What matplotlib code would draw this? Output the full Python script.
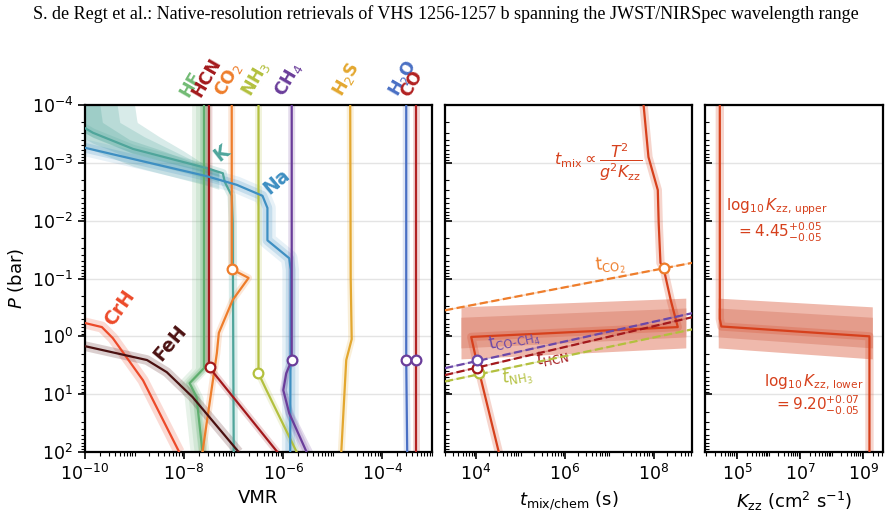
import numpy as np
import matplotlib
matplotlib.use('Agg')
import matplotlib.pyplot as plt
from matplotlib import transforms
from matplotlib.ticker import LogLocator, NullFormatter

plt.rcParams['font.family'] = ['DejaVu Sans']
plt.rcParams['mathtext.fontset'] = 'dejavusans'

TITLE = "S. de Regt et al.: Native-resolution retrievals of VHS 1256-1257 b spanning the JWST/NIRSpec wavelength range"

# ---------------- Panel 1 data: log10 VMR vs log10 P(bar) ----------------
HF_vmr = [-7.60, -7.60, -7.89, -7.75, -7.63]
HF_p = [-4.00, 0.55, 0.81, 1.05, 2.00]
HCN_vmr = [-7.50, -7.50, -6.12]
HCN_p = [-4.00, 0.53, 2.00]
CO2_vmr = [-7.04, -7.04, -6.70, -7.02, -7.30, -7.34, -7.63]
CO2_p = [-4.00, -1.16, -1.01, -0.63, -0.06, 0.29, 2.00]
NH3_vmr = [-6.50, -6.50, -6.34, -5.73]
NH3_p = [-4.00, 0.64, 0.93, 2.00]
CH4_vmr = [-5.83, -5.83, -5.94, -6.00, -5.88, -5.53]
CH4_p = [-4.00, 0.41, 0.64, 0.93, 1.33, 2.00]
H2S_vmr = [-4.65, -4.64, -4.62, -4.73, -4.83]
H2S_p = [-4.00, -1.00, 0.05, 0.41, 2.00]
H2O_vmr = [-3.52, -3.52, -3.50]
H2O_p = [-4.00, 0.41, 2.00]
CO_vmr = [-3.32, -3.32]
CO_p = [-4.00, 2.00]
K_vmr = [-10.3, -10.0, -9.84, -9.03, -7.55, -7.22, -7.18, -7.04, -7.02, -7.00]
K_p = [-3.68, -3.60, -3.52, -3.24, -2.91, -2.82, -2.67, -2.43, -1.96, 2.00]
Na_vmr = [-10.3, -10.0, -7.55, -6.94, -6.42, -6.32, -6.32, -5.88, -5.85, -5.86]
Na_p = [-3.32, -3.26, -2.77, -2.62, -2.43, -2.22, -1.66, -1.35, -1.15, 2.00]
CrH_vmr = [-10.3, -10.0, -9.66, -9.44, -8.83, -8.10]
CrH_p = [-0.25, -0.23, -0.16, 0.03, 0.76, 2.00]
FeH_vmr = [-10.3, -10.0, -8.75, -8.35, -7.83, -6.90]
FeH_p = [0.15, 0.17, 0.41, 0.62, 1.05, 2.00]

# K uncertainty envelope upper edges (log VMR, log P), 3 levels (wide -> narrow)
Kenv_x = [[-9.00, -8.95, -8.50, -8.00, -7.55, -7.30],
          [-9.35, -9.30, -8.80, -8.20, -7.60, -7.30],
          [-9.70, -9.65, -9.10, -8.40, -7.70, -7.30]]
Kenv_p = [[-4.00, -3.70, -3.45, -3.20, -2.95, -2.85],
          [-4.00, -3.70, -3.45, -3.20, -2.95, -2.85],
          [-4.00, -3.70, -3.40, -3.20, -2.97, -2.85]]
Kenv_lo = [0.30, 0.18, 0.08]

# HF band offsets (dex) for 3 levels
HF_band_lo = [-0.25, -0.17, -0.09]
HF_band_hi = [0.13, 0.08, 0.04]

# quench points (log VMR, log P)
Q_vmr = [-7.04, -7.48, -6.50, -5.83, -3.52, -3.32]
Q_p = [-1.16, 0.53, 0.64, 0.41, 0.41, 0.41]

top_labels = ['HF', 'HCN', 'CO$_2$', 'NH$_3$', 'CH$_4$', 'H$_2$S', 'H$_2$O', 'CO']
top_label_x = [-7.85, -7.60, -7.12, -6.58, -5.91, -4.73, -3.60, -3.40]

# ---------------- Panel 2 data: log10 t vs log10 P ----------------
tmix_t = [7.77, 7.88, 8.09, 8.11, 8.15, 8.22, 8.38, 8.54, 3.89, 4.02, 4.51]
tmix_p = [-4.00, -3.10, -2.53, -1.96, -1.27, -1.18, -0.63, -0.16, 0.01, 0.46, 2.00]
tchem_t = [3.30, 8.86]
tCO2_p = [-0.45, -1.27]
tCOCH4_p = [0.55, -0.40]
tHCN_p = [0.67, -0.33]
tNH3_p = [0.78, -0.12]
Qt_t = [8.22, 4.01, 4.01, 4.07]
Qt_p = [-1.18, 0.41, 0.54, 0.63]
band2_t = [3.66, 8.72]
band2_light_top = [-0.51, -0.66]
band2_light_bot = [0.39, 0.20]
band2_dark_top = [-0.33, -0.49]
band2_dark_bot = [0.20, 0.01]

# ---------------- Panel 3 data: log10 Kzz vs log10 P ----------------
Kzz_k = [4.45, 4.45, 4.50, 9.20, 9.20]
Kzz_p = [-4.00, -0.30, -0.17, 0.00, 2.00]
band3_k = [4.40, 9.29]
band3_light_top = [-0.66, -0.51]
band3_light_bot = [0.20, 0.39]
band3_dark_top = [-0.49, -0.33]
band3_dark_bot = [0.01, 0.20]

# ---------------- colours ----------------
C = dict(HF='#5fae6e', HCN='#a3191c', CO2='#ee7d2b', NH3='#b3c03e', CH4='#6a3d9a',
         H2S='#e3a72f', H2O='#4a70c4', CO='#b22222', K='#4fa59b', Na='#3e8fc2',
         CrH='#ec4a2a', FeH='#4b1111')
RED = '#d6401c'
HFlab = '#72bb74'
PURP2 = '#6b48a8'

def P(a):
    return 10.0 ** np.asarray(a, dtype=float)

fig = plt.figure(figsize=(8.91, 5.14), dpi=100)
W, H = 891.0, 514.0
top, bot = 105, 452
ax1 = fig.add_axes([85 / W, 1 - bot / H, (432 - 85) / W, (bot - top) / H])
ax2 = fig.add_axes([445 / W, 1 - bot / H, (692 - 445) / W, (bot - top) / H])
ax3 = fig.add_axes([705 / W, 1 - bot / H, (883 - 705) / W, (bot - top) / H])

fig.text(0.5, 1 - 14 / H, TITLE, ha='center', va='center', family='Liberation Serif', fontsize=13)

def line(ax, x, y, color, lw=1.6, glows=((5, 0.18),), z=3):
    for w, a in glows:
        ax.plot(P(x), P(y), color=color, lw=w, alpha=a, solid_capstyle='butt', zorder=z - 0.5)
    ax.plot(P(x), P(y), color=color, lw=lw, zorder=z)

# ---- Panel 1 ----
xg = np.linspace(-10.6, -7.3, 300)
Kline_p = np.interp(xg, K_vmr[:6], K_p[:6])
for lev, alpha in zip(range(3), [0.22, 0.22, 0.25]):
    ptop = np.interp(xg, Kenv_x[lev], Kenv_p[lev], left=-4.0, right=Kenv_p[lev][-1])
    pbot = Kline_p + Kenv_lo[lev]
    pbot = np.maximum(pbot, ptop)
    ax1.fill_between(P(xg), P(pbot), P(ptop), color=C['K'], alpha=alpha, lw=0, zorder=1)

pg = np.linspace(-4, 2, 400)
hf = np.interp(pg, HF_p, HF_vmr)
for lo, hi in zip(HF_band_lo, HF_band_hi):
    ax1.fill_betweenx(P(pg), P(hf + lo), P(hf + hi), color=C['HF'], alpha=0.15, lw=0, zorder=1)

pg2 = np.linspace(0.41, 2, 100)
ch = np.interp(pg2, CH4_p, CH4_vmr)
wid = 0.03 + 0.10 * (pg2 - 0.41) / 1.59
ax1.fill_betweenx(P(pg2), P(ch - wid), P(ch + wid), color=C['CH4'], alpha=0.18, lw=0, zorder=1)

line(ax1, HF_vmr, HF_p, C['HF'])
line(ax1, K_vmr, K_p, C['K'], glows=((6, 0.2),))
line(ax1, CO2_vmr, CO2_p, C['CO2'])
line(ax1, HCN_vmr, HCN_p, C['HCN'])
line(ax1, NH3_vmr, NH3_p, C['NH3'])
line(ax1, Na_vmr, Na_p, C['Na'], glows=((12, 0.12), (7, 0.2)))
line(ax1, CH4_vmr, CH4_p, C['CH4'])
line(ax1, H2S_vmr, H2S_p, C['H2S'])
line(ax1, H2O_vmr, H2O_p, C['H2O'])
line(ax1, CO_vmr, CO_p, C['CO'])
line(ax1, CrH_vmr, CrH_p, C['CrH'], glows=((8, 0.2),))
line(ax1, FeH_vmr, FeH_p, C['FeH'], glows=((7, 0.2),))

q_cols = [C['CO2'], C['HCN'], C['NH3'], C['CH4'], C['CH4'], C['CH4']]
for x, y, c in zip(Q_vmr, Q_p, q_cols):
    ax1.plot(P(x), P(y), 'o', ms=7, mfc='white', mec=c, mew=1.6, zorder=6)

ax1.set_xscale('log'); ax1.set_yscale('log')
ax1.set_xlim(1e-10, 1e-3)
for ax in (ax1, ax2, ax3):
    ax.set_ylim(1e2, 1e-4)

trans = transforms.blended_transform_factory(ax1.transData, ax1.transAxes)
off = transforms.offset_copy(trans, fig=fig, x=0, y=5, units='dots')
lab_cols = [HFlab, C['HCN'], C['CO2'], C['NH3'], C['CH4'], C['H2S'], C['H2O'], C['CO']]
for lab, x, c in zip(top_labels, top_label_x, lab_cols):
    ax1.text(10 ** x, 1.0, lab, transform=off, rotation=60, rotation_mode='anchor',
             ha='left', va='bottom', color=c, fontsize=12.5, fontweight='bold', clip_on=False)

ax1.text(10 ** -9.30, 10 ** -0.49, 'CrH', color=C['CrH'], rotation=55, fontsize=13.5,
         fontweight='bold', ha='center', va='center')
ax1.text(10 ** -8.29, 10 ** 0.12, 'FeH', color=C['FeH'], rotation=50, fontsize=13.5,
         fontweight='bold', ha='center', va='center')
ax1.text(10 ** -7.24, 10 ** -3.17, 'K', color=C['K'], rotation=38, fontsize=13.5,
         fontweight='bold', ha='center', va='center')
ax1.text(10 ** -6.14, 10 ** -2.67, 'Na', color=C['Na'], rotation=40, fontsize=13.5,
         fontweight='bold', ha='center', va='center')

ax1.set_xticks([1e-10, 1e-8, 1e-6, 1e-4])
ax1.set_xlabel('VMR', fontsize=13)
ax1.set_ylabel('$P$ (bar)', fontsize=13)

# ---- Panel 2 ----
def band(ax, xs, top_e, bot_e, color, z=1):
    xx = np.linspace(xs[0], xs[1], 100)
    t = np.interp(xx, xs, top_e)
    b = np.interp(xx, xs, bot_e)
    ax.fill_between(P(xx), P(b), P(t), color=color, lw=0, zorder=z)

band(ax2, band2_t, band2_light_top, band2_light_bot, '#efb9ac')
band(ax2, band2_t, band2_dark_top, band2_dark_bot, '#e49c8b')
line(ax2, tmix_t, tmix_p, RED, glows=((6, 0.22),))
chem_cols = [C['CO2'], PURP2, C['HCN'], C['NH3']]
for pp, c in zip([tCO2_p, tCOCH4_p, tHCN_p, tNH3_p], chem_cols):
    ax2.plot(P(tchem_t), P(pp), color=c, lw=1.0, alpha=0.3, zorder=3)
    ax2.plot(P(tchem_t), P(pp), color=c, lw=1.6, ls='--', zorder=3.5)
for x, y, c, z in zip(Qt_t, Qt_p, chem_cols, [6, 6.3, 6.2, 6.1]):
    ax2.plot(P(x), P(y), 'o', ms=7, mfc='white', mec=c, mew=1.6, zorder=z)

ax2.set_xscale('log'); ax2.set_yscale('log')
ax2.set_xlim(10 ** 3.30, 10 ** 8.86)
ax2.set_xticks([1e4, 1e6, 1e8])
ax2.set_xlabel('$t_\\mathrm{mix/chem}$ (s)', fontsize=13)

ax2.text(10 ** 6.75, 10 ** -3.01, '$t_\\mathrm{mix} \\propto \\dfrac{T^2}{g^2 K_\\mathrm{zz}}$',
         color=RED, fontsize=11.5, ha='center', va='center')
ax2.text(10 ** 7.02, 10 ** -1.22, '$\\mathrm{t}_\\mathrm{CO_2}$', color=C['CO2'], fontsize=12,
         rotation=5, ha='center', va='center')
ax2.text(10 ** 4.86, 10 ** 0.07, '$\\mathrm{t}_\\mathrm{CO\\text{-}CH_4}$', color=PURP2,
         fontsize=12, rotation=12, ha='center', va='center')
ax2.text(10 ** 5.72, 10 ** 0.36, '$t_\\mathrm{HCN}$', color=C['HCN'], fontsize=12,
         rotation=12, ha='center', va='center')
ax2.text(10 ** 4.93, 10 ** 0.71, '$t_\\mathrm{NH_3}$', color=C['NH3'], fontsize=12,
         rotation=10, ha='center', va='center')

# ---- Panel 3 ----
band(ax3, band3_k, band3_light_top, band3_light_bot, '#efb9ac')
band(ax3, band3_k, band3_dark_top, band3_dark_bot, '#e49c8b')
line(ax3, Kzz_k, Kzz_p, RED, glows=((6, 0.22),))
ax3.set_xscale('log'); ax3.set_yscale('log')
ax3.set_xlim(10 ** 3.98, 10 ** 9.63)
ax3.set_xticks([1e5, 1e7, 1e9])
ax3.set_xlabel('$K_\\mathrm{zz}$ (cm$^2$ s$^{-1}$)', fontsize=13)
ax3.text(10 ** 6.27, 10 ** -2.24, '$\\log_{10} K_\\mathrm{zz,\\,upper}$', color=RED, fontsize=11,
         ha='center', va='center')
ax3.text(10 ** 6.33, 10 ** -1.80, '$= 4.45^{+0.05}_{-0.05}$', color=RED, fontsize=11,
         ha='center', va='center')
ax3.text(10 ** 7.44, 10 ** 0.79, '$\\log_{10} K_\\mathrm{zz,\\,lower}$', color=RED, fontsize=11,
         ha='center', va='center')
ax3.text(10 ** 7.54, 10 ** 1.19, '$= 9.20^{+0.07}_{-0.05}$', color=RED, fontsize=11,
         ha='center', va='center')

# ---- common styling ----
for ax in (ax1, ax2, ax3):
    ax.set_yticks([1e-4, 1e-3, 1e-2, 1e-1, 1e0, 1e1, 1e2])
    ax.yaxis.set_minor_locator(LogLocator(base=10, subs=np.arange(2, 10), numticks=100))
    ax.yaxis.set_minor_formatter(NullFormatter())
    ax.xaxis.set_minor_locator(LogLocator(base=10, subs=np.arange(1, 10), numticks=100))
    ax.xaxis.set_minor_formatter(NullFormatter())
    ax.yaxis.grid(True, which='major', color='#e4e4e4', lw=1.0)
    ax.set_axisbelow(True)
    for s in ax.spines.values():
        s.set_linewidth(1.6)
    ax.tick_params(which='major', length=5, width=1.2, labelsize=12.5)
    ax.tick_params(which='minor', length=3, width=0.8)
for ax in (ax2, ax3):
    ax.tick_params(axis='y', which='both', direction='in', labelleft=False)

fig.savefig('out.png', dpi=100)
